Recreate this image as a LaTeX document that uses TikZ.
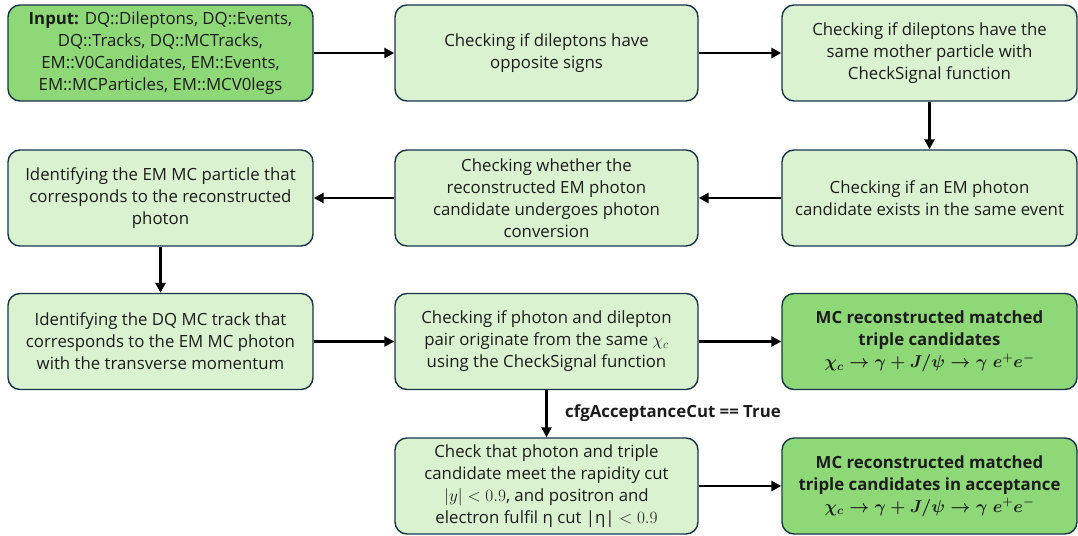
\documentclass[tikz,border=0pt]{standalone}
\usepackage[no-math]{fontspec}
\setmainfont{Open Sans}
\usepackage{amsmath}
\usetikzlibrary{arrows.meta}
\definecolor{lightfill}{HTML}{DAF2D0}
\definecolor{darkfill}{HTML}{8FD877}
\definecolor{boxline}{HTML}{17344A}
\definecolor{txt}{HTML}{1C1C1C}
\begin{document}
\begin{tikzpicture}[x=1pt,y=-1pt,
  stepbox/.style={draw=boxline, line width=1.4pt, rounded corners=12pt, fill=lightfill,
    align=center, text=txt, inner sep=0pt, minimum height=96pt,
    font=\fontsize{16.8}{22}\selectfont},
  outbox/.style={stepbox, fill=darkfill, font=\fontsize{16.8}{22}\selectfont\bfseries},
  flowarrow/.style={line width=2.8pt, -{Triangle[length=10pt,width=10pt]}},
  condlabel/.style={font=\fontsize{16.8}{22}\selectfont\bfseries, text=txt, anchor=west, inner sep=0pt}]
\useasboundingbox (0,0) rectangle (1078,535);

% row 1
\node[stepbox, fill=darkfill, minimum width=305pt] (input) at (160.5,53)
  {\textbf{Input:} DQ::Dileptons, DQ::Events,\\ DQ::Tracks, DQ::MCTracks,\\ EM::V0Candidates, EM::Events,\\ EM::MCParticles, EM::MCV0legs};
\node[stepbox, minimum width=303pt] (signs) at (546.5,53)
  {Checking if dileptons have\\ opposite signs};
\node[stepbox, minimum width=295pt] (mother) at (929.5,53)
  {Checking if dileptons have the\\ same mother particle with\\ CheckSignal function};

% row 2
\node[stepbox, minimum width=295pt] (photon) at (929.5,198)
  {Checking if an EM photon\\ candidate exists in the same event};
\node[stepbox, minimum width=303pt] (conv) at (546.5,198)
  {Checking whether the\\ reconstructed EM photon\\ candidate undergoes photon\\ conversion};
\node[stepbox, minimum width=305pt] (mcpart) at (160.5,198)
  {Identifying the EM MC particle that\\ corresponds to the reconstructed\\ photon};

% row 3
\node[stepbox, minimum width=305pt] (mctrack) at (160.5,341.5)
  {Identifying the DQ MC track that\\ corresponds to the EM MC photon\\ with the transverse momentum};
\node[stepbox, minimum width=303pt] (origin) at (546.5,341.5)
  {Checking if photon and dilepton\\ pair originate from the same $\chi_c$\\ using the CheckSignal function};
\node[outbox, minimum width=295pt] (matched) at (929.5,341.5)
  {MC reconstructed matched\\ triple candidates\\ {\boldmath$\chi_c\rightarrow\gamma+J/\psi\rightarrow\gamma\;e^{+}e^{-}$}};

% row 4
\node[stepbox, minimum width=303pt] (accept) at (546.5,486)
  {Check that photon and triple\\ candidate meet the rapidity cut\\ $|y|<0.9$, and positron and\\ electron fulfil η cut |η| $<0.9$};
\node[outbox, minimum width=295pt] (inacc) at (929.5,486)
  {MC reconstructed matched\\ triple candidates in acceptance\\ {\boldmath$\chi_c\rightarrow\gamma+J/\psi\rightarrow\gamma\;e^{+}e^{-}$}};

% connectors
\draw[flowarrow] (input) -- (signs);
\draw[flowarrow] (signs) -- (mother);
\draw[flowarrow] (mother) -- (photon);
\draw[flowarrow] (photon) -- (conv);
\draw[flowarrow] (conv) -- (mcpart);
\draw[flowarrow] (mcpart) -- (mctrack);
\draw[flowarrow] (mctrack) -- (origin);
\draw[flowarrow] (origin) -- (matched);
\draw[flowarrow] (origin) -- (accept);
\draw[flowarrow] (accept) -- (inacc);
\node[condlabel] (cutlabel) at (565,413) {cfgAcceptanceCut == True};
\end{tikzpicture}
\end{document}
